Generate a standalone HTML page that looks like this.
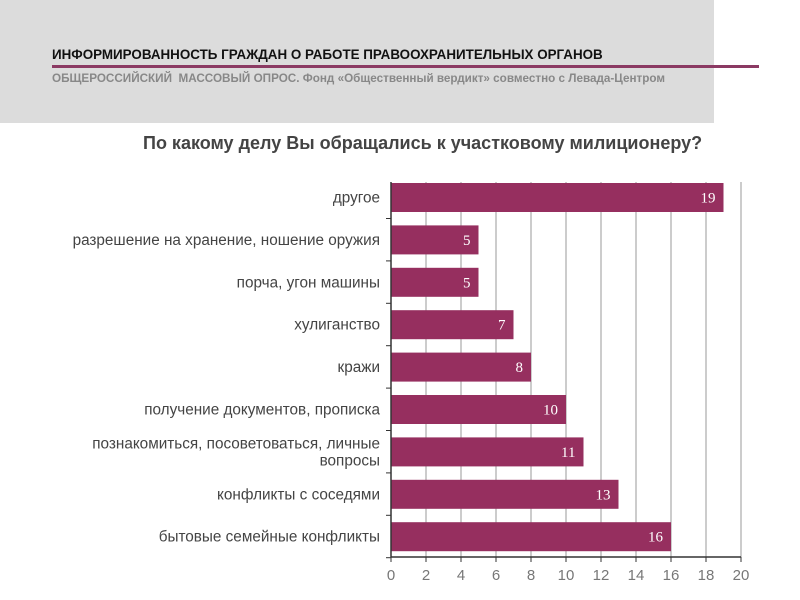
<!DOCTYPE html>
<html><head><meta charset="utf-8"><style>
body{margin:0;width:800px;height:600px;background:#fff;font-family:"Liberation Sans","DejaVu Sans",sans-serif;position:relative;overflow:hidden}
.hdr{position:absolute;left:0;top:0;width:714px;height:123px;background:#dcdcdc}
.t1{position:absolute;left:52px;top:47px;font-size:13.4px;font-weight:bold;color:#111;white-space:nowrap}
.ln{position:absolute;left:52px;top:65px;width:707px;height:3px;background:#8b3a63}
.t2{position:absolute;left:52px;top:72px;font-size:11.7px;font-weight:bold;color:#888;white-space:nowrap}
.q{position:absolute;left:143px;top:133px;font-size:18px;font-weight:bold;color:#444;white-space:nowrap}
</style></head><body>
<div class="hdr"></div>
<div class="t1">ИНФОРМИРОВАННОСТЬ ГРАЖДАН О РАБОТЕ ПРАВООХРАНИТЕЛЬНЫХ ОРГАНОВ</div>
<div class="ln"></div>
<div class="t2">ОБЩЕРОССИЙСКИЙ &nbsp;МАССОВЫЙ ОПРОС. Фонд «Общественный вердикт» совместно с Левада-Центром</div>
<div class="q">По какому делу Вы обращались к участковому милиционеру?</div>
<svg id="ch" width="800" height="600" style="position:absolute;left:0;top:0"></svg>
<script>
const categories=["другое","разрешение на хранение, ношение оружия","порча, угон машины","хулиганство","кражи","получение документов, прописка","познакомиться, посоветоваться, личные|вопросы","конфликты с соседями","бытовые семейные конфликты"];
const values=[19,5,5,7,8,10,11,13,16];
const ticks=[0,2,4,6,8,10,12,14,16,18,20];
const NS="http://www.w3.org/2000/svg",svg=document.getElementById('ch');
const x0=391,x1=741,yTop=182,yBot=557,maxV=20;
const xs=v=>x0+(x1-x0)*v/maxV;
const band=42.4, bh=29;
function mk(t,a,p){const e=document.createElementNS(NS,t);for(const k in a)e.setAttribute(k,a[k]);(p||svg).appendChild(e);return e;}
ticks.forEach(t=>{
 if(t>0){const g=mk('line',{x1:xs(t),x2:xs(t),y1:yTop,y2:yBot,stroke:'#bbb','stroke-width':1.5});
 
 }
 const tk=mk('line',{x1:xs(t),x2:xs(t),y1:yBot,y2:yBot+5,stroke:'#333'});
 
 
 const l=mk('text',{x:xs(t),y:yBot+23,'text-anchor':'middle','font-size':15,fill:'#777','font-family':'Liberation Sans, sans-serif'});
 l.textContent=t;
 
 
});
categories.forEach((c,i)=>{
 const by=yTop+1+band*i;
 const r=mk('rect',{x:x0,y:by,width:xs(values[i])-x0,height:bh,fill:'#962f5f'});
 
 
 const v=mk('text',{x:xs(values[i])-8,y:by+bh/2+5,'text-anchor':'end','font-size':15,fill:'#fff','font-family':'Liberation Serif, serif'});
 v.textContent=values[i];
 
 
 const parts=c.split('|');
 const lab=mk('text',{x:380,'text-anchor':'end','font-size':15.3,fill:'#444'});
 
 
 parts.forEach((p,j)=>{const ts=mk('tspan',{x:380,y:by+bh/2+5+(j-(parts.length-1)/2)*17},lab);ts.textContent=p;});
 const ct=mk('line',{x1:x0-5,x2:x0,y1:by+bh+6.5,y2:by+bh+6.5,stroke:'#333'});
 
 
});
const ya=mk('line',{x1:x0,x2:x0,y1:yTop,y2:yBot,stroke:'#333','stroke-width':1.5});


const xa=mk('line',{x1:x0,x2:x1,y1:yBot,y2:yBot,stroke:'#333','stroke-width':1.5});


</script>
</body></html>
